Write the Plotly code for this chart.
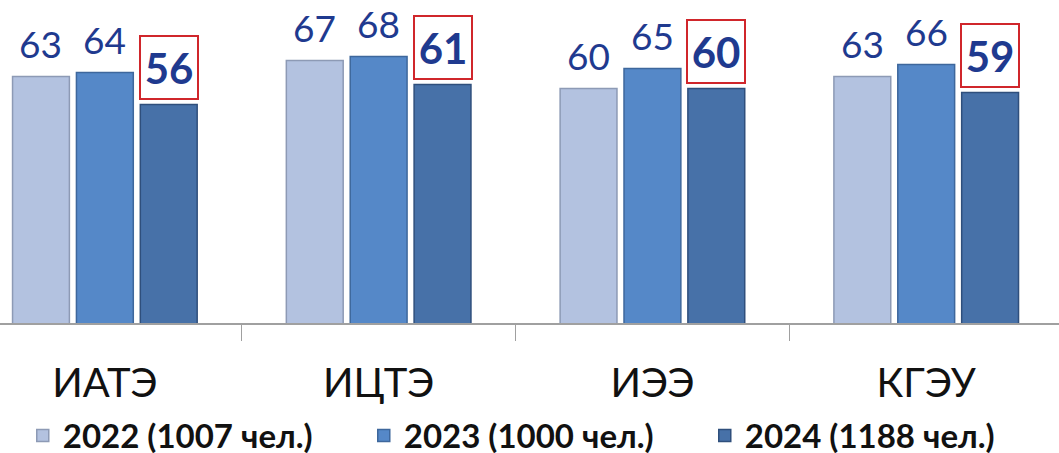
import plotly.graph_objects as go

categories = ["ИАТЭ", "ИЦТЭ", "ИЭЭ", "КГЭУ"]
series_names = ["2022 (1007 чел.)", "2023 (1000 чел.)", "2024 (1188 чел.)"]
values_2022 = [63, 67, 60, 63]
values_2023 = [64, 68, 65, 66]
values_2024 = [56, 61, 60, 59]

colors = ["#B3C2E0", "#5588C8", "#4771A8"]
edge_colors = ["#8D9AB5", "#3E679C", "#2F4F7C"]
label_color = "#1F3A8F"

BARGAP = 0.30
BARGROUPGAP = 0.11

all_series = [values_2022, values_2023, values_2024]

fig = go.Figure()
for name, vals, col, edge in zip(series_names, all_series, colors, edge_colors):
    fig.add_trace(go.Bar(
        x=categories, y=vals, name="<b>" + name + "</b>",
        marker=dict(color=col, line=dict(color=edge, width=1.5)),
    ))

slot = (1 - BARGAP) / len(all_series)
annotations = []
for j, vals in enumerate(all_series):
    offset = (j - (len(all_series) - 1) / 2) * slot
    for i, v in enumerate(vals):
        if j < 2:
            annotations.append(dict(
                x=i + offset, y=v, xref="x", yref="y", text=str(v),
                showarrow=False, yanchor="bottom", yshift=9,
                font=dict(family="Lato", size=37, color=label_color),
            ))
        else:
            annotations.append(dict(
                x=i + offset, y=v, xref="x", yref="y", text="<b>%d</b>" % v,
                showarrow=False, yanchor="bottom", yshift=5,
                width=56, height=61, valign="middle",
                bordercolor="#D0262B", borderwidth=2, borderpad=0,
                bgcolor="white",
                font=dict(family="Lato", size=42, color=label_color),
            ))

fig.update_layout(
    width=1059, height=453,
    margin=dict(l=0, r=0, t=0, b=130, autoexpand=False),
    paper_bgcolor="white", plot_bgcolor="white",
    barmode="group", bargap=BARGAP, bargroupgap=BARGROUPGAP,
    showlegend=True,
    legend=dict(
        orientation="h", x=0.0215, xanchor="left", y=-0.262, yanchor="top",
        entrywidth=296, entrywidthmode="pixels",
        font=dict(family="Lato", size=33, color="#111111"),
        itemclick=False, tracegroupgap=0,
    ),
    annotations=annotations,
    font=dict(family="Lato"),
)

fig.update_xaxes(
    range=[-0.383, 3.485],
    showline=True, linecolor="#A0A0A0", linewidth=1.5,
    ticks="outside", tickson="boundaries", ticklen=16, tickcolor="#A0A0A0",
    tickfont=dict(family="Lato", size=40, color="#111111"),
    ticklabelstandoff=24,
    showgrid=False, zeroline=False, fixedrange=True,
)
fig.update_yaxes(
    range=[1.4, 82.15], visible=False, showgrid=False, zeroline=False,
)

fig.write_html("out.html")
